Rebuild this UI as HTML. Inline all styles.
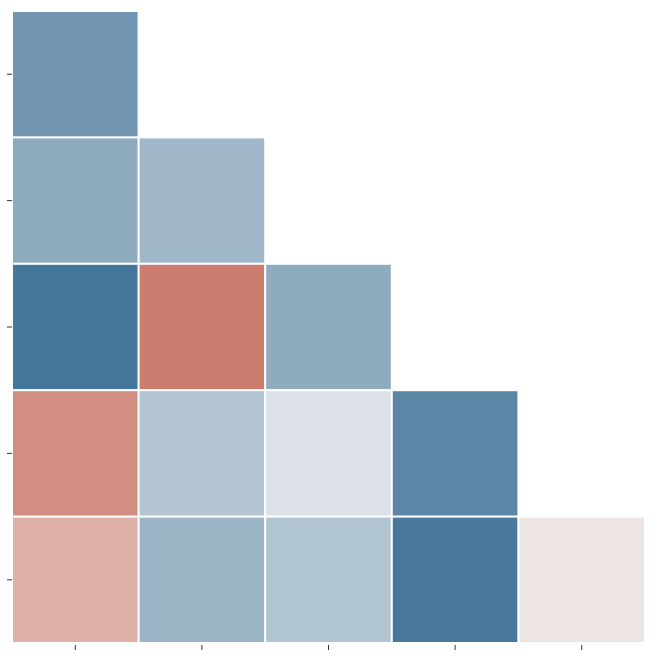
<!DOCTYPE html>
<html><head><meta charset="utf-8"><style>
html,body{margin:0;padding:0;background:#fff;}
svg{display:block;font-family:"Liberation Sans",sans-serif;}
</style></head><body>
<svg id="chart" width="657" height="655" xmlns="http://www.w3.org/2000/svg"></svg>
<script>
const categories = ["v0","v1","v2","v3","v4"];
const row0 = [-0.70];
const row1 = [-0.55, -0.45];
const row2 = [-0.95, 0.80, -0.54];
const row3 = [0.68, -0.34, -0.12, -0.82];
const row4 = [0.45, -0.47, -0.35, -0.93, 0.08];
const rows = [row0,row1,row2,row3,row4];

const svg = document.getElementById('chart');
const NS = 'http://www.w3.org/2000/svg';
const x0 = 12, x1 = 645, y0 = 11, y1 = 643;
const n = categories.length;
const cw = (x1-x0)/n, ch = (y1-y0)/n;
const xPos = i => x0 + i*cw;
const yPos = i => y0 + i*ch;
const blue=[59,111,150], mid=[241,241,241], red=[196,96,79];
function color(v){
  const end = v<0?blue:red, t=Math.min(1,Math.abs(v));
  const c = mid.map((m,k)=>Math.round(m+(end[k]-m)*t));
  return `rgb(${c[0]},${c[1]},${c[2]})`;
}
rows.forEach((row,r)=>{
  row.forEach((v,c)=>{
    const rect=document.createElementNS(NS,'rect');
    rect.setAttribute('x',xPos(c));rect.setAttribute('y',yPos(r));
    rect.setAttribute('width',cw);rect.setAttribute('height',ch);
    rect.setAttribute('fill',color(v));rect.setAttribute('stroke','#fff');rect.setAttribute('stroke-width','2');
    
    
    svg.appendChild(rect);
  });
});
categories.forEach((cat,i)=>{
  const cx=xPos(i)+cw/2;
  const t=document.createElementNS(NS,'line');
  t.setAttribute('x1',cx);t.setAttribute('x2',cx);t.setAttribute('y1',645);t.setAttribute('y2',650);
  t.setAttribute('stroke','#333');t.setAttribute('stroke-width','1');
  
  
  svg.appendChild(t);
  const cy=yPos(i)+ch/2;
  const u=document.createElementNS(NS,'line');
  u.setAttribute('x1',7);u.setAttribute('x2',12);u.setAttribute('y1',cy);u.setAttribute('y2',cy);
  u.setAttribute('stroke','#333');u.setAttribute('stroke-width','1');
  
  
  svg.appendChild(u);
});
</script>
</body></html>
